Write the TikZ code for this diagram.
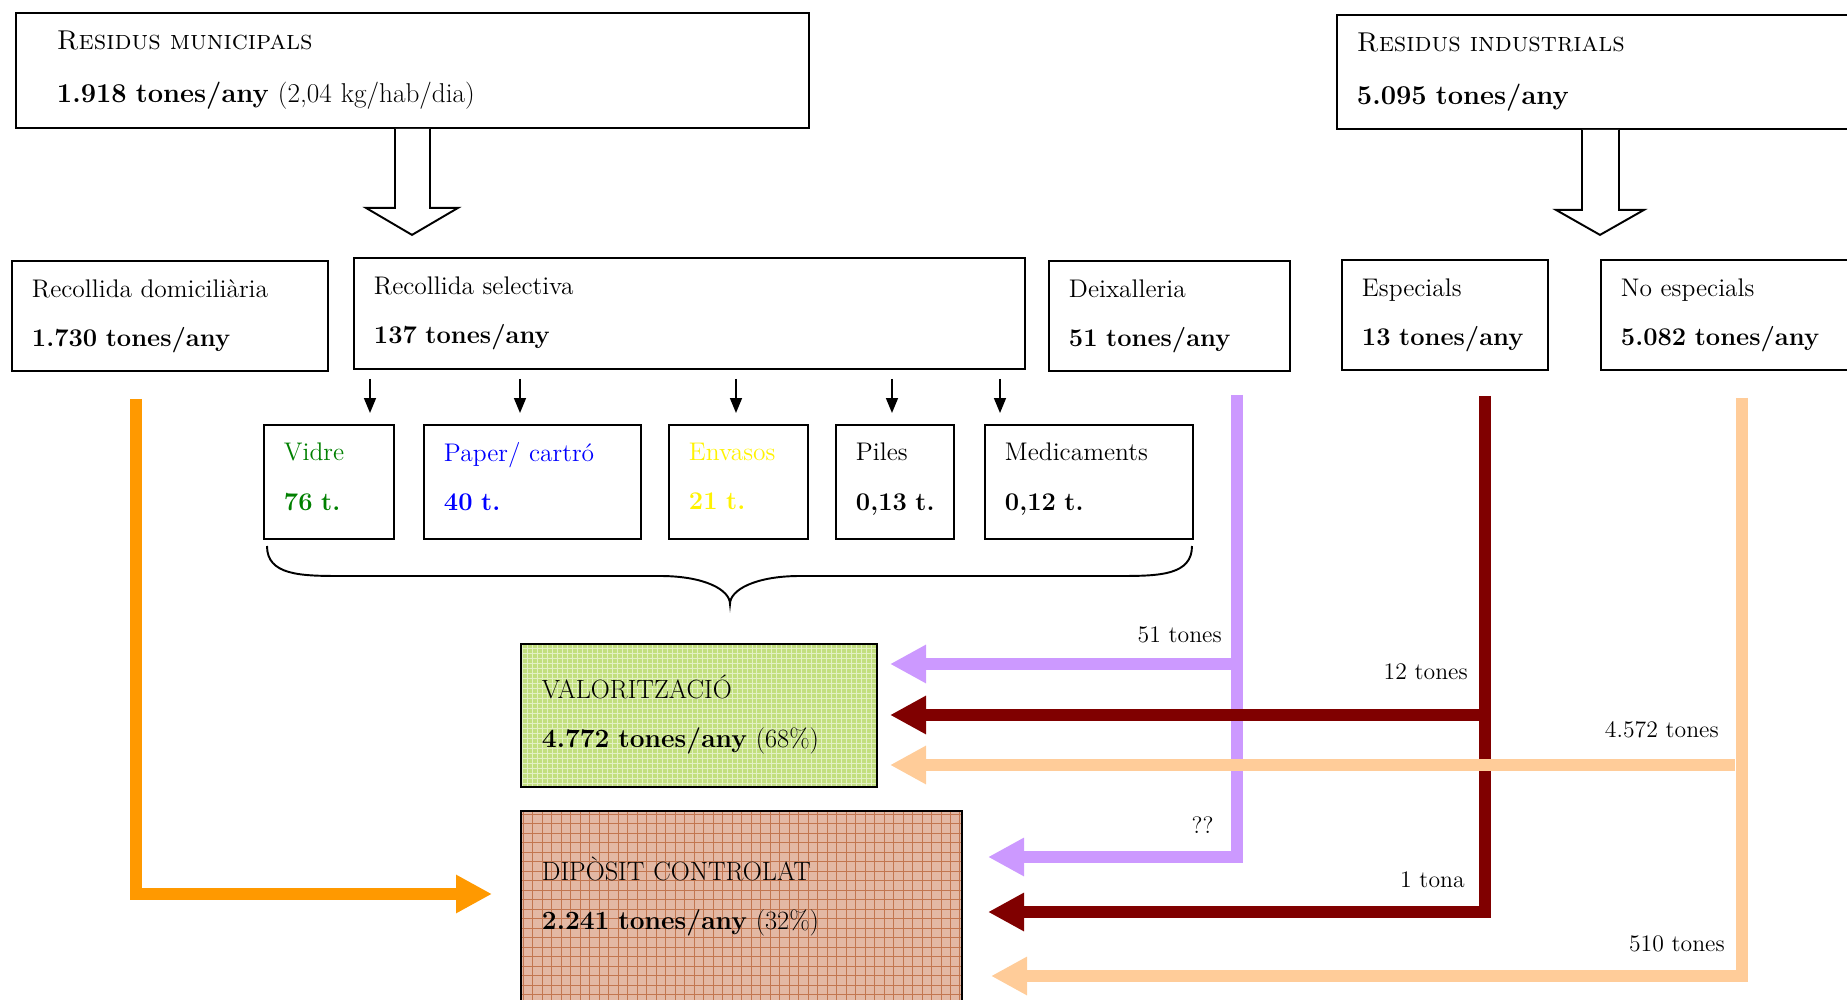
\documentclass[tikz,border=0pt]{standalone}
\usetikzlibrary{arrows.meta,calc}

\definecolor{flowOrange}{HTML}{FF9900}
\definecolor{flowPurple}{HTML}{CC99FF}
\definecolor{flowRed}{HTML}{800000}
\definecolor{flowPeach}{HTML}{FFCC99}
\definecolor{vidreGreen}{HTML}{008000}
\definecolor{valGreen}{HTML}{C2DF7E}
\definecolor{dipBrown}{HTML}{E3B8A4}
\definecolor{dipLine}{HTML}{C27650}

\tikzset{
	box/.style={draw, line width=1.1pt, anchor=north west, align=left, inner ysep=0pt, inner xsep=0.4cm, font=\fontsize{14.5}{28}\selectfont},
	bigbox/.style={box, font=\fontsize{15.5}{30}\selectfont},
	destbox/.style={box, inner xsep=0.42cm, font=\fontsize{15}{28}\selectfont},
	flow/.style={line width=6.3pt, -{Triangle[length=0.72cm,width=0.72cm]}},
	thinarrow/.style={line width=0.9pt, -{Triangle[length=0.3cm,width=0.24cm]}},
	lbl/.style={anchor=base east, inner sep=0pt, font=\fontsize{13.5}{16}\selectfont},
	valfill/.style={fill=valGreen, path picture={\draw[white, opacity=.55, line width=.5pt, step=0.1cm] (path picture bounding box.south west) grid (path picture bounding box.north east);}},
	dipfill/.style={fill=dipBrown, path picture={\draw[dipLine, line width=.45pt, step=0.19cm] (path picture bounding box.south west) grid (path picture bounding box.north east);}}
}

\begin{document}
\begin{tikzpicture}[x=0.02cm, y=-0.02cm]
	\useasboundingbox (0,0) rectangle (1847,1000);
	\clip (0,0) rectangle (1847,1000);

	%top boxes
		\node[bigbox, inner xsep=0.82cm, text width=14.22cm, minimum height=2.3cm] (municipals) at (15,12) {\textsc{Residus municipals}\\\textbf{1.918 tones/any} (2,04 kg/hab/dia)};
		\node[bigbox, text width=10cm, minimum height=2.28cm] (industrials) at (1336,14) {\textsc{Residus industrials}\\\textbf{5.095 tones/any}};

	%hollow arrows
		\draw[line width=1.1pt, fill=white] (municipals.south -| 395,0) -- ++(0,79) -- ++(-29,0) -- ++(46,27) -- ++(46,-27) -- ++(-28,0) -- (municipals.south -| 430,0);
		\draw[line width=1.1pt, fill=white] (industrials.south -| 1582,0) -- ++(0,80) -- ++(-26,0) -- ++(44,25) -- ++(44,-25) -- ++(-25,0) -- (industrials.south -| 1619,0);

	%second row
		\node[box, text width=5.52cm, minimum height=2.2cm] (domiciliaria) at (11,260) {Recollida domiciliària\\\textbf{1.730 tones/any}};
		\node[box, text width=12.62cm, minimum height=2.22cm] (selectiva) at (353,257) {Recollida selectiva\\\textbf{137 tones/any}};
		\node[box, text width=4.02cm, minimum height=2.2cm] (deixalleria) at (1048,260) {Deixalleria\\\textbf{51 tones/any}};
		\node[box, text width=3.32cm, minimum height=2.2cm] (especials) at (1341,259) {Especials\\\textbf{13 tones/any}};
		\node[box, text width=5.2cm, minimum height=2.2cm] (noespecials) at (1600,259) {No especials\\\textbf{5.082 tones/any}};

	%selective fractions
		\node[box, text width=1.8cm, minimum height=2.28cm, text=vidreGreen] (vidre) at (263,424) {Vidre\\\textbf{76~t.}\rule[-6pt]{0pt}{0pt}};
		\node[box, text width=3.54cm, minimum height=2.28cm, text=blue] (paper) at (423,424) {Paper/ cartró\\\textbf{40~t.}\rule[-6pt]{0pt}{0pt}};
		\node[box, text width=1.98cm, minimum height=2.28cm, text=yellow] (envasos) at (668,424) {Envasos\\\textbf{21~t.}\rule[-6pt]{0pt}{0pt}};
		\node[box, text width=1.56cm, minimum height=2.28cm] (piles) at (835,424) {Piles\\\textbf{0,13~t.}\rule[-6pt]{0pt}{0pt}};
		\node[box, text width=3.36cm, minimum height=2.28cm] (medicaments) at (984,424) {Medicaments\\\textbf{0,12~t.}\rule[-6pt]{0pt}{0pt}};

		\foreach \px/\dest in {370/vidre,520/paper,736/envasos,892/piles,1000/medicaments}
			\draw[thinarrow, shorten <=0.18cm, shorten >=0.22cm] (selectiva.south -| \px,0) -- (\dest.north -| \px,0);

	%brace
		\draw[line width=1.1pt] (267,546) .. controls (267,575) and (300,576) .. (340,576) -- (660,576) .. controls (705,576) and (730,590) .. (730,604) .. controls (730,590) and (755,576) .. (800,576) -- (1120,576) .. controls (1160,576) and (1192,575) .. (1192,546);

	%destinations
		\node[destbox, valfill, text width=6.28cm, minimum height=2.86cm] (valoritzacio) at (520,643) {VALORITZACIÓ\\\textbf{4.772 tones/any} (68\%)\rule[-5pt]{0pt}{0pt}};
		\node[destbox, dipfill, text width=7.98cm, minimum height=4.28cm] (diposit) at (520,810) {DIPÒSIT CONTROLAT\\\textbf{2.241 tones/any} (32\%)\\\mbox{}};

	%arrow tips
		\coordinate (otip) at (492,894);
		\coordinate (vtip1) at (890,664);
		\coordinate (vtip2) at (890,715);
		\coordinate (vtip3) at (890,765);
		\coordinate (dtip1) at (988,857);
		\coordinate (dtip2) at (988,912);
		\coordinate (dtip3) at (991,976);

	%flows
		\draw[flow, flowOrange] ($(domiciliaria.south -| 136,0)+(0,27)$) |- (otip);
		\draw[flow, flowPurple] ($(deixalleria.south -| 1237,0)+(0,23)$) |- (dtip1);
		\draw[flow, flowPurple] (1237,664) -- (vtip1);
		\draw[flow, flowRed] ($(especials.south -| 1485,0)+(0,25)$) |- (dtip2);
		\draw[flow, flowRed] (1485,715) -- (vtip2);
		\draw[flow, flowPeach] ($(noespecials.south -| 1742,0)+(0,27)$) |- (dtip3);
		\draw[flow, flowPeach] (1735,765) -- (vtip3);

	%labels
		\node[lbl] (l51) at (1222,642) {51 tones};
		\node[lbl] (l12) at (1468,679) {12 tones};
		\node[lbl] (l4572) at (1719,737) {4.572 tones};
		\node[lbl] (lqq) at (1214,833) {??};
		\node[lbl] (l1) at (1465,887) {1 tona};
		\node[lbl] (l510) at (1725,951) {510 tones};
\end{tikzpicture}
\end{document}
